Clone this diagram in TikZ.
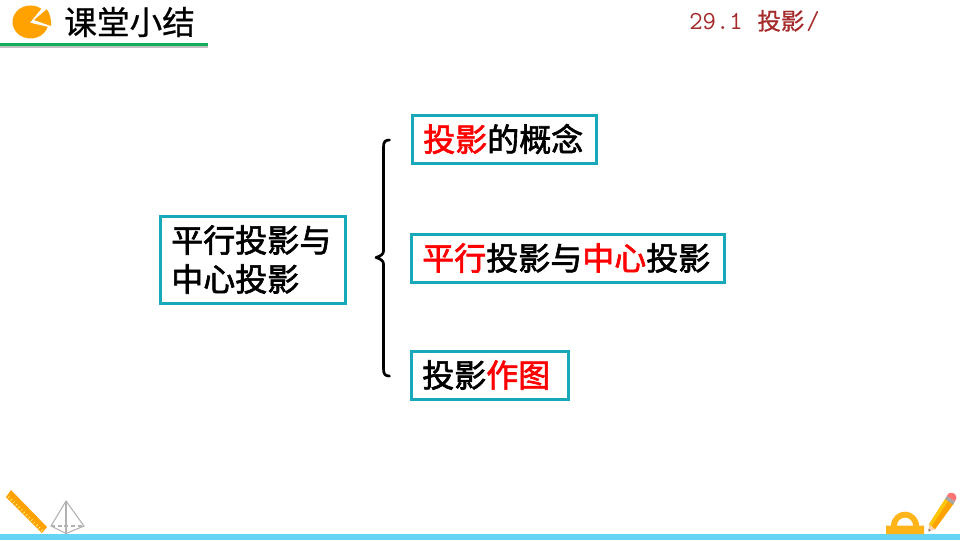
\documentclass[tikz,border=0pt]{standalone}
\usepackage{fontspec}
\newfontfamily\cjk[FakeBold=0.7]{Noto Sans CJK SC}
\newfontfamily\cjkm[FakeBold=2]{Noto Sans CJK SC}
\definecolor{tealb}{HTML}{17A9BA}
\definecolor{orangeb}{HTML}{FFA200}
\definecolor{greenb}{HTML}{13AE5C}
\definecolor{skyb}{HTML}{66D4F5}
\definecolor{darkred}{HTML}{A52A2A}
\definecolor{goldb}{HTML}{FFB41A}
\tikzset{
 px/.style={x=0.75pt,y=-0.75pt},
 topicbox/.style={draw=tealb,line width=2.25pt,inner sep=0pt,outer sep=0pt,anchor=north west},
 boxtext/.style={font=\cjkm\fontsize{24}{29.25}\selectfont,anchor=west,inner sep=0pt},
 grayline/.style={draw=black!30,line width=0.8pt},
}
\newcommand{\rd}[1]{\textcolor{red}{#1}}
\begin{document}
\begin{tikzpicture}[px]
\useasboundingbox (0,0) rectangle (960,540);
\fill[white] (0,0) rectangle (960,540);
% header
\fill[black!25] (0,46) rectangle (208,48);
\fill[greenb] (0,43) rectangle (208,46);
\fill[orangeb] (30,22.7) -- (41.2,8.7) arc[start angle=53.5,end angle=343,x radius=13.5pt,y radius=12.4pt] -- cycle;
\fill[orangeb] (34,20) -- (46.7,9.3) .. controls (50,13) and (51.5,20) .. (51,26) -- cycle;
\node[font=\cjk\fontsize{24.5}{25}\selectfont,anchor=west,inner sep=0pt] (title) at (64,22) {课堂小结};
\node[font=\ttfamily\addfontfeature{FakeBold=1}\fontsize{19.5}{19}\selectfont,text=darkred,anchor=west,inner sep=0pt] (sect) at (689,21) {29.1\hspace{11pt}{\cjk\fontsize{17.6}{19}\selectfont 投影}\hspace{1.5pt}/};
% boxes
\node[topicbox,minimum width=138pt,minimum height=36pt] (b1) at (412.5,115.5) {};
\node[topicbox,minimum width=234.75pt,minimum height=36pt] (b2) at (411.5,234.5) {};
\node[topicbox,minimum width=117.75pt,minimum height=36pt] (b3) at (411.5,351.5) {};
\node[topicbox,minimum width=138.75pt,minimum height=65.25pt] (b0) at (160.5,216.5) {};
\node[boxtext] (t1) at (423,139) {\rd{投影}的概念};
\node[boxtext] (t2) at (422,258) {\rd{平行}投影与\rd{中心}投影};
\node[boxtext] (t3) at (422,375) {投影\rd{作图}};
\node[boxtext,align=left] (t0) at (171,259.5) {平行投影与\\中心投影};
% brace
\coordinate (bt) at (389.5,140);
\coordinate (bm) at (376,257.5);
\coordinate (bb) at (389.5,376);
\draw[black,line width=2pt,line cap=round,line join=round]
 (bt) .. controls (385,140) and (383.5,142) .. (383.5,147)
 -- (383.5,251) .. controls (383.5,254) and (381,256) .. (bm)
 .. controls (381,259) and (383.5,261) .. (383.5,264)
 -- (383.5,369) .. controls (383.5,374) and (385,376) .. (bb);
% bottom bar
\fill[skyb] (0,534) rectangle (960,540);
% ruler
\fill[orangeb] (6,497) -- (11,490) -- (47,527) -- (42,533) -- cycle;
\foreach \i in {0,...,13}{
 \draw[yellow!45,line width=0.5pt] (8+\i*2.55,498+\i*2.55) -- ++(1.6,-1.6);
}
% pyramid
\draw[grayline] (66,501) -- (51,526) -- (66,533.5) -- (84,526) -- cycle;
\draw[grayline] (66,501) -- (66,533.5);
\draw[grayline,densely dashed] (51,526) -- (84,526);
% protractor
\fill[goldb] (886,534) -- (886,525.7) -- (891,525.7) arc[start angle=180,end angle=0,radius=10.5pt] -- (924,525.7) -- (924,534) -- cycle;
\fill[white] (897,525.7) arc[start angle=180,end angle=0,radius=6pt] -- cycle;
% pencil
\fill[orangeb] (929,524.3) -- (946,497.7) -- (954,503.3) -- (935,529.3) -- cycle;
\fill[yellow!60!orange] (929,524.3) -- (946,497.7) -- (949,499.7) -- (931.5,526.3) -- cycle;
\fill[orange!35] (929,524.3) -- (935,529.3) -- (928.5,531.5) -- cycle;
\fill[black!60] (928.7,528.5) -- (930.5,530.7) -- (928.5,531.5) -- cycle;
\fill[black!35] (945,499) -- (947,495.7) -- (955,501.3) -- (953,504.5) -- cycle;
\fill[red!55!white] (947,496) .. controls (947.5,492.5) and (952,492) .. (955,494) .. controls (957,496) and (957,499) .. (955,501.3) -- cycle;
\end{tikzpicture}
\end{document}
